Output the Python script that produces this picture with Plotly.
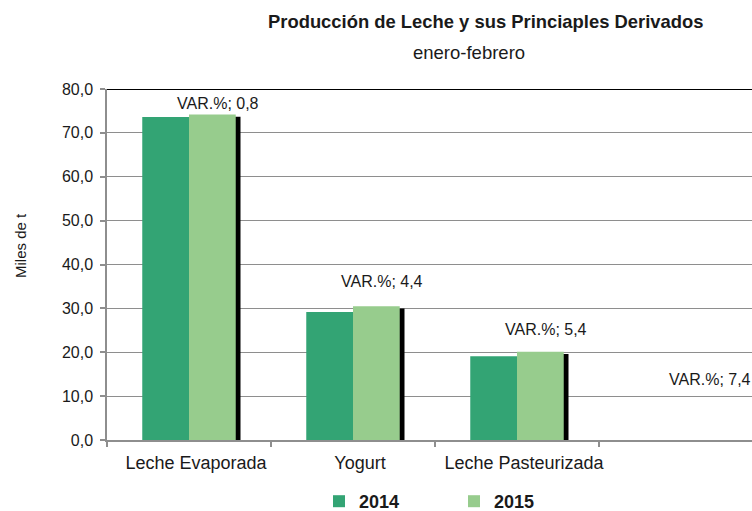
import plotly.graph_objects as go

# ---- data ----
categories = ["Leche Evaporada", "Yogurt", "Leche Pasteurizada", " "]
series_names = ["2014", "2015"]
values_2014 = [73.6, 29.2, 19.1, None]
values_2015 = [74.2, 30.5, 20.1, None]
var_pct = ["0,8", "4,4", "5,4", "7,4"]
var_label_y = [76.8, 36.1, 25.1, 13.9]
y_ticks = [0, 10, 20, 30, 40, 50, 60, 70, 80]

title_text = "Producción de Leche y sus Princiaples Derivados"
subtitle_text = "enero-febrero"
y_title = "Miles de t"

FONT = "Liberation Sans, Arial, sans-serif"
C2014 = "#33A474"
C2015 = "#97CC8D"
GRID = "#8E8E8E"

W, H = 752, 511
ML, MR, MT, MB = 107, 0, 89, 71
pw = W - ML - MR
ph = H - MT - MB

def px_x(x):
    return (x - ML) / pw

def px_y(y):
    return (H - MB - y) / ph

fig = go.Figure()

# shadow behind 2015 bars
shadow_vals = [None if v is None else v - 0.5 for v in values_2015]
fig.add_trace(go.Bar(
    x=categories, y=shadow_vals, offset=0.029, width=0.285,
    marker=dict(color="black", line=dict(width=0)),
    showlegend=False, hoverinfo="skip"))

fig.add_trace(go.Bar(
    x=categories, y=values_2014, name="<b>" + series_names[0] + "</b>", offset=-0.285, width=0.285,
    marker=dict(color=C2014, line=dict(width=0))))
fig.add_trace(go.Bar(
    x=categories, y=values_2015, name="<b>" + series_names[1] + "</b>", offset=0.0, width=0.285,
    marker=dict(color=C2015, line=dict(width=0))))

annotations = []
for c, t, yv in zip(categories, var_pct, var_label_y):
    annotations.append(dict(
        x=c, y=yv, xref="x", yref="y", text="VAR.%; " + t, showarrow=False,
        xshift=29, xanchor="center", yanchor="middle",
        font=dict(family=FONT, size=16, color="#1a1a1a")))

annotations.append(dict(
    x=px_x(485), y=px_y(22), xref="paper", yref="paper", text="<b>" + title_text + "</b>",
    showarrow=False, xanchor="center", yanchor="middle",
    font=dict(family=FONT, size=18.4, color="#1a1a1a")))
annotations.append(dict(
    x=px_x(469), y=px_y(53), xref="paper", yref="paper", text=subtitle_text,
    showarrow=False, xanchor="center", yanchor="middle",
    font=dict(family=FONT, size=18.5, color="#1a1a1a")))
annotations.append(dict(
    x=px_x(20), y=px_y(245), xref="paper", yref="paper", text=y_title,
    showarrow=False, xanchor="center", yanchor="middle", textangle=-90,
    font=dict(family=FONT, size=15, color="#1a1a1a")))

fig.update_layout(
    width=W, height=H,
    margin=dict(l=ML, r=MR, t=MT, b=MB, pad=0, autoexpand=False),
    paper_bgcolor="white", plot_bgcolor="white",
    barmode="overlay",
    separators=", ",
    font=dict(family=FONT, color="#1a1a1a"),
    annotations=annotations,
    showlegend=True,
    legend=dict(
        orientation="h", x=px_x(319), y=px_y(501.5), xanchor="left", yanchor="middle",
        font=dict(family=FONT, size=18, color="#1a1a1a"),
        entrywidth=90, entrywidthmode="pixels",
        traceorder="normal", bgcolor="rgba(0,0,0,0)"),
    shapes=[dict(type="line", xref="paper", yref="y", x0=0, x1=1, y0=80, y1=80,
                 line=dict(color="black", width=2))],
)

fig.update_xaxes(
    type="category", categoryorder="array", categoryarray=categories,
    range=[-0.5, -0.5 + pw / 164.0], automargin=False,
    showline=True, linecolor=GRID, linewidth=1.5,
    ticks="outside", tickson="boundaries", ticklen=5, tickcolor=GRID, tickwidth=1.5,
    tickangle=0, ticklabelshift=7, ticklabelstandoff=6,
    tickfont=dict(family=FONT, size=18, color="#1a1a1a"),
    showgrid=False, zeroline=False, fixedrange=True)

fig.update_yaxes(
    range=[0, 80], tickvals=y_ticks, tickformat=".1f", automargin=False,
    showline=True, linecolor=GRID, linewidth=1.5,
    ticks="outside", ticklen=5, tickcolor=GRID, tickwidth=1.5,
    ticklabelstandoff=4,
    tickfont=dict(family=FONT, size=16, color="#1a1a1a"),
    showgrid=True, gridcolor=GRID, gridwidth=1.3,
    zeroline=False, fixedrange=True)

fig.write_html(
    "out.html",
    config={"displayModeBar": False},
    post_script="document.body.style.margin='0';document.body.style.padding='0';"
                "document.body.style.overflow='hidden';",
)
